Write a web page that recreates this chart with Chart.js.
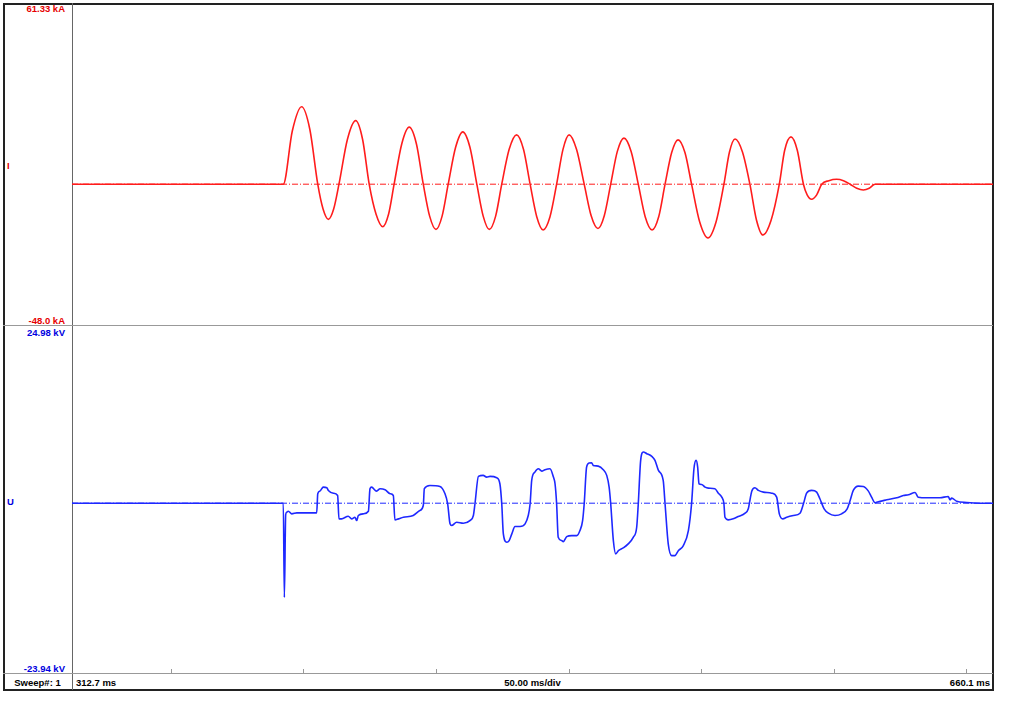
<!DOCTYPE html>
<html>
<head>
<meta charset="utf-8">
<script src="https://cdn.jsdelivr.net/npm/chart.js@4.4.0/dist/chart.umd.min.js"></script>
<style>
body { margin:0; background:#fff; width:1024px; height:724px; position:relative; overflow:hidden; font-family:"Liberation Sans", Arial, sans-serif; }
.frame { position:absolute; left:3px; top:3px; width:987px; height:684px; border:2px solid #222; }
.ln { position:absolute; background:#999; }
.lbl { position:absolute; font-weight:bold; font-size:9.5px; line-height:11px; white-space:nowrap; }
.red { color:#e60000; }
.blue { color:#0000e0; }
canvas { position:absolute; }
</style>
</head>
<body>
<div class="frame"></div>
<div class="ln" style="left:72px; top:3px; width:1px; height:687px; background:#666;"></div>
<div class="ln" style="left:3px; top:325px; width:990px; height:1px;"></div>
<div class="ln" style="left:3px; top:673px; width:990px; height:1px;"></div>

<div class="lbl red" style="left:3px; top:3px; width:62px; text-align:right;">61.33 kA</div>
<div class="lbl red" style="left:7px; top:160px;">I</div>
<div class="lbl red" style="left:3px; top:315px; width:62px; text-align:right;">-48.0 kA</div>
<div class="lbl blue" style="left:3px; top:327px; width:62px; text-align:right;">24.98 kV</div>
<div class="lbl blue" style="left:7px; top:496px;">U</div>
<div class="lbl blue" style="left:3px; top:663px; width:62px; text-align:right;">-23.94 kV</div>

<div class="lbl" style="left:3px; top:677px; width:69px; text-align:center;">Sweep#: 1</div>
<div class="lbl" style="left:76px; top:677px;">312.7 ms</div>
<div class="lbl" style="left:72px; top:677px; width:921px; text-align:center;">50.00 ms/div</div>
<div class="lbl" style="left:72px; top:677px; width:918px; text-align:right;">660.1 ms</div>

<canvas id="chartI" width="921" height="323" style="left:72px; top:3px;"></canvas>
<canvas id="chartU" width="921" height="364" style="left:72px; top:326px;"></canvas>

<script>
// time window (ms) and tick marks in the footer
const tStart = 312.7;
const tEnd = 660.1;
const tickMs = [350, 400, 450, 500, 550, 600, 650];

// current I (kA)
const iMin = -48.0, iMax = 61.33;
const iTime = [312.7, 392.4, 395.8, 399.3, 402.4, 405.4, 407.4, 409.4, 411.4, 413.4,
  416.6, 419.7, 422.3, 424.8, 427.4, 429.9, 432.1, 434.2, 437.1, 439.9, 442.6, 445.2,
  447.6, 450.0, 452.3, 454.6, 457.4, 460.1, 462.8, 465.4, 467.8, 470.1, 472.5, 474.8,
  477.6, 480.4, 483.0, 485.5, 488.0, 490.4, 493.0, 495.5, 497.9, 500.2, 503.0, 505.9,
  508.5, 511.1, 513.5, 515.9, 518.4, 520.9, 523.6, 526.3, 528.9, 531.5, 534.0, 536.4,
  538.9, 541.3, 543.9, 546.4, 549.5, 552.6, 555.6, 558.6, 560.7, 562.8, 565.6, 568.4,
  570.9, 573.3, 576.4, 579.5, 581.5, 583.9, 586.3, 588.6, 590.0, 591.7, 593.6, 595.5,
  598.2, 601.1, 603.7, 606.2, 608.7, 611.2, 613.4, 615.6, 660.1];
const iKA = [0, 0, 18.0, 26.2, 18.6, 0, -8.4, -11.9, -8.4, 0,
  15.2, 21.5, 15.2, 0, -10.2, -14.4, -10.2, 0, 13.7, 19.3, 13.7, 0,
  -10.8, -15.3, -10.8, 0, 12.5, 17.7, 12.5, 0, -10.8, -15.3, -10.8, 0,
  11.8, 16.7, 11.8, 0, -11.0, -15.5, -11.0, 0, 11.8, 16.7, 11.8, 0,
  -10.6, -15.0, -10.6, 0, 11.1, 15.6, 11.1, 0, -11.0, -15.5, -11.0, 0,
  10.7, 15.0, 10.7, 0, -12.9, -18.2, -12.9, 0, 10.9, 15.3, 10.9, 0,
  -12.2, -17.2, -12.2, 0, 11.4, 16.0, 11.4, 0, -3.6, -5.1, -3.6, 0,
  1.2, 1.66, 1.2, 0, -1.4, -1.96, -1.4, 0, 0];

// voltage U (kV)
const uMin = -23.94, uMax = 24.98;
const uTime = [312.7, 392.4, 392.8, 393.3, 393.7, 394.3, 395.6, 397.5, 405.0, 405.4,
  406.2, 407.5, 408.8, 409.4, 411.3, 412.9, 413.4, 414.4, 416.9, 418.2, 419.4, 420.1,
  420.7, 422.6, 424.5, 425.1, 425.7, 427.6, 428.9, 430.8, 432.7, 433.9, 434.5, 435.8,
  437.7, 441.4, 443.9, 445.2, 445.6, 447.7, 451.5, 453.4, 454.4, 455.3, 455.9, 457.8,
  460.3, 462.8, 464.1, 464.7, 466.0, 467.8, 469.1, 470.4, 472.9, 474.1, 474.8, 475.4,
  476.7, 477.6, 478.6, 479.8, 481.7, 483.6, 484.8, 485.5, 486.1, 487.3, 488.6, 489.9,
  491.1, 493.0, 494.3, 494.9, 495.5, 496.1, 497.4, 498.0, 499.3, 501.2, 503.1, 504.3,
  505.3, 505.9, 506.8, 507.7, 508.7, 509.3, 511.2, 513.1, 514.4, 515.3, 515.9, 516.9,
  517.8, 518.8, 520.6, 522.5, 524.4, 525.7, 526.3, 527.2, 528.2, 529.5, 531.4, 532.6,
  533.9, 535.7, 536.4, 537.6, 538.9, 540.1, 541.4, 543.3, 545.2, 546.4, 547.3, 548.1,
  548.7, 549.2, 550.2, 551.5, 552.7, 555.2, 556.5, 557.8, 558.6, 559.0, 560.3, 562.1,
  564.0, 566.6, 567.8, 568.4, 569.1, 570.3, 571.6, 573.5, 576.6, 578.5, 579.5, 580.8,
  582.3, 584.8, 587.3, 588.6, 589.8, 591.7, 593.6, 594.8, 596.4, 598.0, 600.5, 603.0,
  605.1, 606.2, 607.4, 609.3, 611.2, 613.1, 614.3, 615.6, 616.2, 620.0, 623.8, 626.3,
  628.2, 630.7, 631.9, 635.1, 640.1, 643.2, 643.9, 644.5, 646.4, 650.2, 655.2, 660.1];
const uKV = [0, 0, -13.3, -1.6, -1.27, -1.13, -1.50, -1.36, -1.36, 1.33,
  1.70, 2.26, 2.18, 1.80, 1.41, 1.09, -2.21, -2.21, -1.84, -2.21, -1.98, -2.45,
  -1.74, -1.50, -1.13, 2.04, 2.26, 1.70, 2.04, 1.89, 1.33, 1.09, -2.35, -2.21,
  -1.98, -1.74, -1.03, -0.33, 2.04, 2.50, 2.36, 1.33, -0.08, -2.91, -3.15, -2.69,
  -2.83, -2.45, -1.74, -0.08, 3.78, 3.92, 3.68, 3.78, 3.59, 2.74, -0.08, -4.33,
  -5.51, -5.27, -4.33, -3.29, -3.29, -2.91, -1.74, -0.08, 3.21, 4.38, 4.86, 4.52,
  4.72, 4.86, 3.68, 2.74, -0.08, -4.81, -5.27, -5.42, -4.71, -4.57, -4.57, -3.86,
  -2.45, -0.08, 5.09, 5.66, 5.71, 5.33, 5.23, 4.72, 3.92, 2.26, -0.08, -5.27,
  -7.15, -6.69, -6.31, -5.74, -4.81, -3.39, -0.08, 6.04, 7.21, 6.98, 6.60, 6.04,
  4.62, 3.21, -0.08, -5.74, -7.39, -7.39, -6.69, -5.98, -3.86, -0.08, 4.86, 6.04,
  5.09, 2.74, 2.64, 2.26, 2.12, 2.04, 1.41, 0.85, -0.08, -1.98, -2.35, -2.21,
  -1.88, -1.41, -0.79, 0.38, 1.70, 2.18, 1.80, 1.56, 1.41, 0.85, -1.50, -2.21,
  -1.98, -1.74, -1.41, -0.08, 1.41, 1.80, 1.56, 0.62, -0.79, -1.41, -1.74, -1.50,
  -0.79, 0.38, 1.80, 2.40, 2.36, 1.70, 0.85, 0.06, 0.14, 0.48, 0.76, 1.09,
  1.19, 1.51, 0.85, 0.76, 0.76, 0.95, 0.48, 0.71, 0.28, 0.10, 0, 0];

const redLine = 'rgb(255,28,28)';
const blueLine = 'rgb(30,40,255)';

function pairs(xs, ys) {
  return xs.map((x, i) => ({ x: x, y: ys[i] }));
}

// draws the small 50 ms/div marks on the footer line
const footTicks = {
  id: 'footTicks',
  afterDraw(chart) {
    const { ctx, chartArea, scales } = chart;
    ctx.save();
    ctx.strokeStyle = '#999';
    ctx.lineWidth = 1;
    tickMs.forEach(v => {
      const px = Math.round(scales.x.getPixelForValue(v)) + 0.5;
      ctx.beginPath();
      ctx.moveTo(px, chartArea.bottom);
      ctx.lineTo(px, chartArea.bottom - 4);
      ctx.stroke();
    });
    ctx.restore();
  }
};

function makeChart(id, times, values, lo, hi, color, padBottom, extra) {
  return new Chart(document.getElementById(id), {
    type: 'scatter',
    data: {
      datasets: [{
        data: pairs(times, values),
        showLine: true,
        borderColor: color,
        borderWidth: 1.6,
        pointRadius: 0,
        cubicInterpolationMode: 'monotone'
      }, {
        data: pairs([tStart, tEnd], [0, 0]),
        showLine: true,
        borderColor: color,
        borderWidth: 1,
        borderDash: [6, 2, 1, 2],
        pointRadius: 0
      }]
    },
    options: {
      responsive: false,
      animation: false,
      layout: { padding: { left: 0, right: 0, top: 0, bottom: padBottom } },
      plugins: { legend: { display: false }, tooltip: { enabled: false } },
      scales: {
        x: { type: 'linear', min: tStart, max: tEnd, display: false },
        y: { type: 'linear', min: lo, max: hi, display: false }
      }
    },
    plugins: extra
  });
}

makeChart('chartI', iTime, iKA, iMin, iMax, redLine, 0, []);
makeChart('chartU', uTime, uKV, uMin, uMax, blueLine, 17, [footTicks]);
</script>
</body>
</html>
